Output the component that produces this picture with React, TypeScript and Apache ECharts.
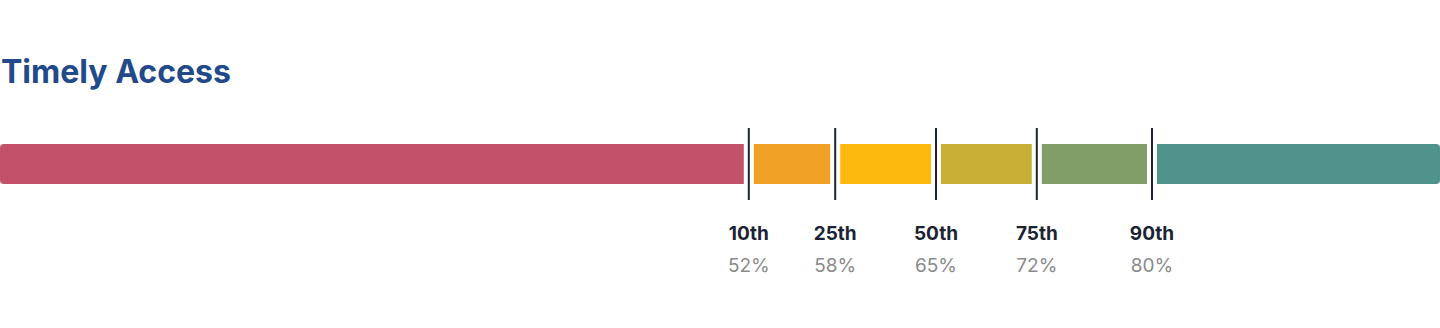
import React, { useEffect, useRef } from "react";
import * as echarts from "echarts";

const titleText = "Timely Access";
const segmentBounds = [0, 52, 58, 65, 72, 80, 100];
const segmentColors = ["#c4516a", "#f0a125", "#fdb90b", "#c8b037", "#819e69", "#4f938a"];
const percentileNames = ["10th", "25th", "50th", "75th", "90th"];
const percentileValues = [52, 58, 65, 72, 80];
const percentileLabels = ["52%", "58%", "65%", "72%", "80%"];

export default function App() {
  const ref = useRef<HTMLDivElement>(null);
  useEffect(() => {
    if (!ref.current) return;
    const chart = echarts.init(ref.current, null, { renderer: "svg" });
    const segData = segmentColors.map((c, i) => [segmentBounds[i], segmentBounds[i + 1], i]);
    const markData = percentileValues.map((v, i) => [v, i]);
    const last = segmentColors.length - 1;
    chart.setOption({
      animation: false,
      title: {
        text: titleText,
        left: 1,
        top: 55,
        padding: 0,
        textStyle: { fontFamily: "Inter", fontSize: 32, fontWeight: 700, color: "#224a8a" },
      },
      grid: { left: 0, right: 0, top: 144, height: 40 },
      xAxis: { type: "value", min: 0, max: 100, show: false },
      yAxis: { type: "category", data: [titleText], show: false },
      series: [
        {
          type: "custom",
          data: segData,
          renderItem: (params: any, api: any) => {
            const i = api.value(2);
            const s = api.coord([api.value(0), 0]);
            const e = api.coord([api.value(1), 0]);
            const h = api.size([0, 1])[1];
            const x0 = s[0] + (i > 0 ? 5 : 0);
            const x1 = e[0] - (i < last ? 5 : 0);
            const lr = i === 0 ? 4 : 0;
            const rr = i === last ? 4 : 0;
            return {
              type: "rect",
              shape: { x: x0, y: s[1] - h / 2, width: x1 - x0, height: h, r: [lr, rr, rr, lr] },
              style: { fill: segmentColors[i] },
            };
          },
        },
        {
          type: "custom",
          data: markData,
          z: 5,
          renderItem: (params: any, api: any) => {
            const i = api.value(1);
            const p = api.coord([api.value(0), 0]);
            return {
              type: "group",
              children: [
                {
                  type: "line",
                  shape: { x1: p[0], y1: p[1] - 36, x2: p[0], y2: p[1] + 36 },
                  style: { stroke: "#1a2233", lineWidth: 2 },
                },
                {
                  type: "text",
                  x: p[0],
                  y: p[1] + 69,
                  style: {
                    text: percentileNames[i],
                    fontFamily: "Inter",
                    fontSize: 19,
                    fontWeight: 700,
                    fill: "#1b2333",
                    align: "center",
                    verticalAlign: "middle",
                  },
                },
                {
                  type: "text",
                  x: p[0],
                  y: p[1] + 101,
                  style: {
                    text: percentileLabels[i],
                    fontFamily: "Inter",
                    fontSize: 19,
                    fontWeight: 400,
                    fill: "#8a8a8a",
                    align: "center",
                    verticalAlign: "middle",
                  },
                },
              ],
            };
          },
        },
      ],
    });
    return () => chart.dispose();
  }, []);
  return (
    <div
      ref={ref}
      style={{ position: "absolute", left: 0, top: 0, width: 1440, height: 328, background: "#fff" }}
    />
  );
}
